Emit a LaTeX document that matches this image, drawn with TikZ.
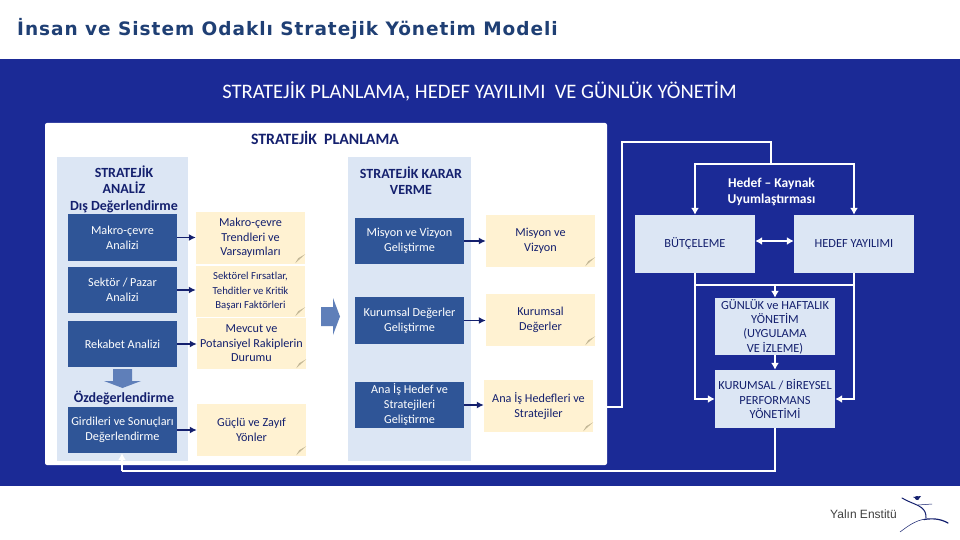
\documentclass[tikz,border=0pt]{standalone}
\usepackage{fontspec}
\setmainfont{Carlito}
\newfontfamily\titlefont[LetterSpace=5.2]{DejaVu Sans}
\newfontfamily\logofont{Liberation Sans}
\usetikzlibrary{arrows.meta,calc,shapes.arrows}
\definecolor{panelblue}{HTML}{1B2A96}
\definecolor{lightcol}{HTML}{DCE6F4}
\definecolor{darkbox}{HTML}{2F5597}
\definecolor{notebox}{HTML}{FFF2D2}
\definecolor{navytext}{HTML}{14206E}
\definecolor{foldcol}{HTML}{C4B897}
\definecolor{bigarrow}{HTML}{5F7FB9}
\definecolor{titlecol}{HTML}{1F3F74}
\tikzset{
 x=1pt,y=-1pt,
 colbox/.style={fill=lightcol,draw=none,inner sep=0pt},
 darkb/.style={fill=darkbox,text=white,draw=none,inner sep=0pt,align=center,minimum width=109,font=\fontsize{12.2}{15}\selectfont},
 noteb/.style={fill=notebox,text=navytext,draw=none,inner sep=0pt,align=center,minimum width=109,font=\fontsize{12.2}{14.5}\selectfont},
 lightb/.style={fill=lightcol,text=navytext,draw=none,inner sep=0pt,align=center,minimum width=120,font=\fontsize{12.4}{14.3}\selectfont},
 head/.style={text=navytext,inner sep=0pt,align=center,font=\bfseries\fontsize{14}{16.5}\selectfont},
 navyarrow/.style={draw=navytext,line width=1.6pt,-{Latex[length=7pt,width=7pt]}},
 whiteline/.style={draw=white,line width=1.4pt},
 whitearrow/.style={draw=white,line width=1.4pt,-{Latex[length=7pt,width=8pt]}},
 whitedouble/.style={draw=white,line width=1.4pt,{Latex[length=7pt,width=8pt]}-{Latex[length=7pt,width=8pt]}},
}
\newcommand{\foldat}[1]{\fill[foldcol] ($(#1.south east)+(-10,-1)$) -- ($(#1.south east)+(-7,-6)$) -- ($(#1.south east)+(0,-10)$) -- cycle;}
\begin{document}
\begin{tikzpicture}
\useasboundingbox (0,0) rectangle (960,540);
\fill[white] (0,0) rectangle (960,540);
\node[inner sep=0pt,anchor=west,text=titlecol] (title) at (17,29) {\titlefont\bfseries\fontsize{18.5}{20}\selectfont İnsan ve Sistem Odaklı Stratejik Yönetim Modeli};
\fill[panelblue] (0,59) rectangle (960,486);
\node[text=white,inner sep=0pt] (main) at (479.5,91) {\fontsize{20.6}{24}\selectfont STRATEJİK PLANLAMA, HEDEF YAYILIMI\ \ VE GÜNLÜK YÖNETİM};
% white panel
\node[fill=white,inner sep=0pt,minimum width=562,minimum height=342,rounded corners=2pt] (panel) at (326,294) {};
\node[text=navytext,inner sep=0pt] (ptitle) at (325,138) {\bfseries\fontsize{15.8}{18}\selectfont STRATEJİK\ \ PLANLAMA};
% columns
\node[colbox,minimum width=131,minimum height=304] (colA) at (122.5,309) {};
\node[colbox,minimum width=123,minimum height=304] (colB) at (409.5,309) {};
\node[head] (headA) at (124,189) {STRATEJİK\\ANALİZ\\Dış Değerlendirme};
\node[head] (headB) at (411,180.5) {STRATEJİK KARAR\\VERME};
\node[head] (ozd) at (124,398) {Özdeğerlendirme};
% dark boxes
\node[darkb,minimum height=47] (a1) at (122.5,237.5) {Makro-çevre\\Analizi};
\node[darkb,minimum height=46] (a2) at (122.5,290) {Sektör / Pazar\\Analizi};
\node[darkb,minimum height=46] (a3) at (122.5,344) {Rekabet Analizi};
\node[darkb,minimum height=46] (a4) at (122.5,430) {Girdileri ve Sonuçları\\Değerlendirme};
\node[darkb,minimum height=46] (b1) at (409.5,241) {Misyon ve Vizyon\\Geliştirme};
\node[darkb,minimum height=47] (b2) at (409.5,320.5) {Kurumsal Değerler\\Geliştirme};
\node[darkb,minimum height=46] (b3) at (409.5,405) {Ana İş Hedef ve\\Stratejileri\\Geliştirme};
% note boxes
\node[noteb,minimum height=52] (n1) at (250.5,238) {Makro-çevre\\Trendleri ve\\Varsayımları};
\node[noteb,minimum height=51,font=\fontsize{10.7}{14.5}\selectfont] (n2) at (250.5,291.5) {Sektörel Fırsatlar,\\Tehditler ve Kritik\\Başarı Faktörleri};
\node[noteb,minimum height=51] (n3) at (251.5,343.5) {Mevcut ve\\Potansiyel Rakiplerin\\Durumu};
\node[noteb,minimum height=52] (n4) at (251.5,430) {Güçlü ve Zayıf\\Yönler};
\node[noteb,minimum height=52] (m1) at (540.5,241) {Misyon ve\\Vizyon};
\node[noteb,minimum height=52] (m2) at (540.5,320) {Kurumsal\\Değerler};
\node[noteb,minimum height=52] (m3) at (538.5,406) {Ana İş Hedefleri ve\\Stratejiler};
\foldat{n1}\foldat{n2}\foldat{n3}\foldat{n4}\foldat{m1}\foldat{m2}\foldat{m3}
% box to note arrows
\draw[navyarrow] (a1.east) -- (a1.east -| n1.west);
\draw[navyarrow] (a2.east) -- (a2.east -| n2.west);
\draw[navyarrow] (a3.east) -- (a3.east -| n3.west);
\draw[navyarrow] (a4.east) -- (a4.east -| n4.west);
\draw[navyarrow] (b1.east) -- (b1.east -| m1.west);
\draw[navyarrow] (b2.east) -- (b2.east -| m2.west);
\draw[navyarrow] (b3.east) -- (b3.east -| m3.west);
% block arrows
\fill[bigarrow] (321,307) -- (333,307) -- (333,298) -- (340,316.5) -- (333,335) -- (333,326) -- (321,326) -- cycle;
\fill[bigarrow] (113,369) -- (132,369) -- (132,381) -- (141,381) -- (122.5,388) -- (104,381) -- (113,381) -- cycle;
% right boxes
\node[lightb,minimum height=58] (bud) at (695,244) {BÜTÇELEME};
\node[lightb,minimum height=58] (hed) at (854,244) {HEDEF YAYILIMI};
\node[lightb,minimum height=57] (gun) at (775,326.5) {GÜNLÜK ve HAFTALIK\\YÖNETİM\\(UYGULAMA\\VE İZLEME)};
\node[lightb,minimum height=58] (kur) at (775,399) {KURUMSAL / BİREYSEL\\PERFORMANS\\YÖNETİMİ};
\node[text=white,inner sep=0pt,align=center,font=\bfseries\fontsize{13.5}{16}\selectfont] (hk) at (771.5,191.5) {Hedef – Kaynak\\Uyumlaştırması};
% connectors
\coordinate (topR) at (771,164);
\coordinate (topL) at (622,142);
\coordinate (panelR) at (607,407);
\coordinate (busy) at (775,285);
\draw[whiteline] (panelR) -| (topL) -| (topR);
\draw[whitearrow] (topR) -| (bud.north);
\draw[whitearrow] (topR) -| (hed.north);
\draw[whitedouble] (bud.east |- 0,241) -- (hed.west |- 0,241);
\coordinate (kurL) at (kur.west);
\coordinate (kurR) at (kur.east);
\draw[whitearrow] (bud.south) |- (kurL);
\draw[whitearrow] (hed.south) |- (kurR);
\draw[whiteline] (bud.south |- busy) -- (hed.south |- busy);
\draw[whitearrow] (busy) -- (gun.north);
\draw[whitearrow] (gun.south) -- (kur.north);
\coordinate (botL) at (122,471);
\draw[whiteline] (kur.south) |- (botL);
\draw[whitearrow] (botL) -- (a4.south -| botL);
% logo
\node[inner sep=0pt,anchor=west,text=black!75] (logo) at (830,514) {\logofont\fontsize{12}{14}\selectfont Yalın Enstitü};
\draw[navytext,line width=1pt,line cap=round] (902,498) .. controls (912,504) and (922,505) .. (925,512) .. controls (926,514) and (926,516) .. (926,518);
\draw[navytext,line width=.5pt] (918,505) -- (932,504);
\fill[navytext] (917,498) circle (2);
\fill[navytext] (913,497) -- (921,496) -- (918,500) -- cycle;
\draw[navytext,line width=.5pt] (900,532) .. controls (908,526) and (916,520) .. (926,519);
\draw[navytext,line width=1.2pt,line cap=round] (924,519.5) .. controls (933,518) and (941,519) .. (948,523);
\end{tikzpicture}
\end{document}
